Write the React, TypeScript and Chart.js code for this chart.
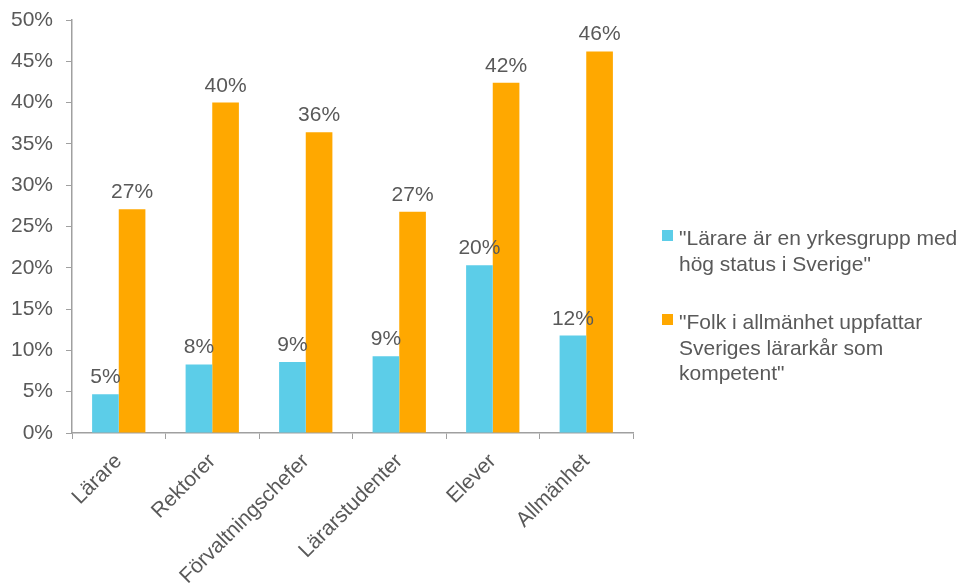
import React, { useEffect, useRef } from "react";
import { Chart, registerables } from "chart.js";

Chart.register(...registerables);

const categories = ["Lärare", "Rektorer", "Förvaltningschefer", "Lärarstudenter", "Elever", "Allmänhet"];
const statusValues = [4.7, 8.3, 8.6, 9.3, 20.3, 11.8];
const competentValues = [27.1, 40.0, 36.4, 26.8, 42.4, 46.2];
const statusLegendLines = ['"Lärare är en yrkesgrupp med', 'hög status i Sverige"'];
const competentLegendLines = ['"Folk i allmänhet uppfattar', "Sveriges lärarkår som", 'kompetent"'];
const yTicks = [0, 5, 10, 15, 20, 25, 30, 35, 40, 45, 50];

const CYAN = "#5CCDE8";
const ORANGE = "#FFA800";
const TEXT = "#595959";
const AXIS = "#A0A0A0";
const FONT = "Liberation Sans, Arial, sans-serif";
const FS = 21;

const valueLabels = {
  id: "valueLabels",
  afterDatasetsDraw(chart: any) {
    const ctx = chart.ctx;
    ctx.save();
    ctx.font = `${FS}px ${FONT}`;
    ctx.fillStyle = TEXT;
    ctx.textAlign = "center";
    ctx.textBaseline = "alphabetic";
    chart.data.datasets.forEach((ds: any, di: number) => {
      const meta = chart.getDatasetMeta(di);
      meta.data.forEach((el: any, i: number) => {
        ctx.fillText(Math.round(ds.data[i]) + "%", el.x, el.y - 11);
      });
    });
    ctx.restore();
  },
};

const sideLegend = {
  id: "sideLegend",
  afterDraw(chart: any) {
    const ctx = chart.ctx;
    const x0 = chart.chartArea.right + 29;
    let y = 230;
    const lineH = 25.5;
    ctx.save();
    ctx.font = `${FS}px ${FONT}`;
    ctx.textAlign = "left";
    ctx.textBaseline = "alphabetic";
    chart.data.datasets.forEach((ds: any) => {
      ctx.fillStyle = ds.backgroundColor;
      ctx.fillRect(x0, y, 11, 11);
      ctx.fillStyle = TEXT;
      (ds.legendLines as string[]).forEach((line, li) => {
        ctx.fillText(line, x0 + 17, y + 15 + li * lineH);
      });
      y += ds.legendLines.length * lineH + 33;
    });
    ctx.restore();
  },
};

export default function App() {
  const ref = useRef<HTMLCanvasElement>(null);
  useEffect(() => {
    if (!ref.current) return;
    const chart = new Chart(ref.current, {
      type: "bar",
      data: {
        labels: categories,
        datasets: [
          {
            label: statusLegendLines.join(" "),
            data: statusValues,
            backgroundColor: CYAN,
            categoryPercentage: 0.57,
            barPercentage: 1,
            legendLines: statusLegendLines,
          } as any,
          {
            label: competentLegendLines.join(" "),
            data: competentValues,
            backgroundColor: ORANGE,
            categoryPercentage: 0.57,
            barPercentage: 1,
            legendLines: competentLegendLines,
          } as any,
        ],
      },
      options: {
        animation: false,
        responsive: false,
        maintainAspectRatio: false,
        layout: { padding: { top: 20, right: 333, left: 0, bottom: 0 } },
        plugins: {
          legend: { display: false },
          tooltip: { enabled: false },
        },
        scales: {
          x: {
            grid: {
              display: true,
              drawOnChartArea: false,
              drawTicks: true,
              tickLength: 6,
              color: AXIS,
              offset: true,
            },
            border: { display: true, color: AXIS, width: 1.5 },
            ticks: {
              color: TEXT,
              font: { family: FONT, size: FS },
              minRotation: 45,
              maxRotation: 45,
              padding: 10,
            },
            afterFit(scale: any) {
              scale.height = 151;
              scale.paddingLeft = 0;
              scale.paddingRight = 0;
            },
          },
          y: {
            min: 0,
            max: 50,
            afterBuildTicks(scale: any) {
              scale.ticks = yTicks.map((v) => ({ value: v }));
            },
            grid: {
              display: true,
              drawOnChartArea: false,
              drawTicks: true,
              tickLength: 6,
              color: AXIS,
            },
            border: { display: true, color: AXIS, width: 1.5 },
            ticks: {
              color: TEXT,
              font: { family: FONT, size: FS },
              padding: 13,
              callback: (v: any) => v + "%",
            },
            afterFit(scale: any) {
              scale.width = 72;
              scale.paddingTop = 0;
              scale.paddingBottom = 0;
            },
          },
        },
      },
      plugins: [valueLabels, sideLegend],
    });
    return () => chart.destroy();
  }, []);
  return (
    <div style={{ position: "absolute", left: 0, top: 0, width: 966, height: 584, background: "#fff" }}>
      <canvas ref={ref} width={966} height={584} style={{ display: "block", width: 966, height: 584 }} />
    </div>
  );
}
